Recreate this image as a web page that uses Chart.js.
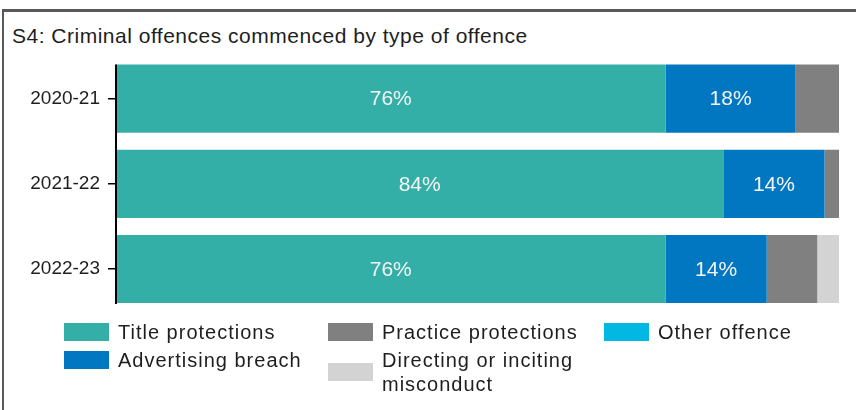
<!DOCTYPE html>
<html>
<head>
<meta charset="utf-8">
<script src="https://cdn.jsdelivr.net/npm/chart.js@4.4.1/dist/chart.umd.min.js"></script>
<style>
  body { margin: 0; background: #fff; font-family: "Liberation Sans", Arial, sans-serif; }
  .wrap { position: relative; width: 856px; height: 410px; overflow: hidden; }
  .frame { position: absolute; left: 2px; top: 9px; right: -10px; bottom: -10px;
           border-top: 3px solid #595959; border-left: 2px solid #595959; }
  .title { position: absolute; left: 12px; top: 24px; font-size: 21px; letter-spacing: 0.5px;
           color: #1e1e1e; line-height: 24px; white-space: nowrap; }
  canvas { position: absolute; left: 0; top: 0; }
  .legend { position: absolute; left: 64px; top: 320px; display: grid;
            grid-template-columns: 264px 276px 220px; grid-template-rows: 28px auto;
            grid-auto-flow: column; }
  .item { display: flex; align-items: center; align-self: start; }
  .swatch { width: 45px; height: 18px; flex: none; margin-right: 9px; }
  .label { font-size: 20px; letter-spacing: 1px; line-height: 24px; color: #1e1e1e; width: 205px; }
</style>
</head>
<body>
<div class="wrap">
  <div class="frame"></div>
  <div class="title">S4: Criminal offences commenced by type of offence</div>
  <canvas id="offenceChart" width="856" height="331"></canvas>
  <div class="legend" id="legend"></div>
</div>
<script>
// Financial years (rows) and share of offences per type, in percent
const years = ['2020-21', '2021-22', '2022-23'];
const titleProtections = [76, 84, 76];
const advertisingBreach = [18, 14, 14];
const practiceProtections = [6, 2, 7];
const directingMisconduct = [0, 0, 3];
const otherOffence = [0, 0, 0];

const seriesNames = ['Title protections', 'Advertising breach', 'Practice protections',
  'Directing or inciting misconduct', 'Other offence'];
const seriesColors = ['#33afa8', '#0077c0', '#808080', '#d3d3d3', '#00b8e2'];
const seriesValues = [titleProtections, advertisingBreach, practiceProtections,
  directingMisconduct, otherOffence];

// only the two big segments carry a value label
const labelledSeries = [0, 1];

const datasets = seriesNames.map((name, i) => ({
  label: name,
  data: seriesValues[i],
  backgroundColor: seriesColors[i],
  borderWidth: 0,
  categoryPercentage: 0.8,
  barPercentage: 1
}));

// white percent labels centred in the segments
const segmentLabels = {
  id: 'segmentLabels',
  afterDatasetsDraw(chart) {
    const ctx = chart.ctx;
    ctx.save();
    ctx.font = '21px "Liberation Sans", Arial, sans-serif';
    ctx.fillStyle = '#f4f4f4';
    ctx.textAlign = 'center';
    ctx.textBaseline = 'middle';
    labelledSeries.forEach(di => {
      chart.getDatasetMeta(di).data.forEach((bar, j) => {
        const v = chart.data.datasets[di].data[j];
        if (!v) return;
        const p = bar.getCenterPoint();
        ctx.fillText(v + '%', p.x, p.y + 1);
      });
    });
    ctx.restore();
  }
};

// vertical axis line running from the first bar top to the last bar bottom
const axisLine = {
  id: 'axisLine',
  afterDatasetsDraw(chart) {
    const bars = chart.getDatasetMeta(0).data;
    if (!bars.length) return;
    const first = bars[0], last = bars[bars.length - 1];
    const x = chart.chartArea.left;
    const ctx = chart.ctx;
    ctx.save();
    ctx.strokeStyle = '#000';
    ctx.lineWidth = 2;
    ctx.beginPath();
    ctx.moveTo(x, first.y - first.height / 2);
    ctx.lineTo(x, last.y + last.height / 2 + 1);
    ctx.stroke();
    ctx.restore();
  }
};

new Chart(document.getElementById('offenceChart'), {
  type: 'bar',
  data: { labels: years, datasets },
  options: {
    indexAxis: 'y',
    responsive: false,
    animation: false,
    layout: { padding: { top: 56, left: 12, right: 17, bottom: 1 } },
    scales: {
      x: { stacked: true, min: 0, max: 100, display: false },
      y: {
        stacked: true,
        border: { display: false },
        grid: { offset: false, drawOnChartArea: false, drawTicks: true, tickLength: 8, color: '#000', lineWidth: 1.5 },
        ticks: {
          padding: 8,
          color: '#1e1e1e',
          font: { family: '"Liberation Sans", Arial, sans-serif', size: 19 }
        },
        afterFit(scale) { scale.width = 104; }
      }
    },
    plugins: {
      legend: { display: false },
      tooltip: { enabled: false }
    }
  },
  plugins: [segmentLabels, axisLine]
});

// legend below the plot, column by column
const legend = document.getElementById('legend');
const legendOrder = [0, 1, 2, 3, 4];
legendOrder.forEach(i => {
  const item = document.createElement('div');
  item.className = 'item';
  item.innerHTML = '<span class="swatch" style="background:' + seriesColors[i] + '"></span>' +
    '<span class="label">' + seriesNames[i] + '</span>';
  legend.appendChild(item);
});
</script>
</body>
</html>
